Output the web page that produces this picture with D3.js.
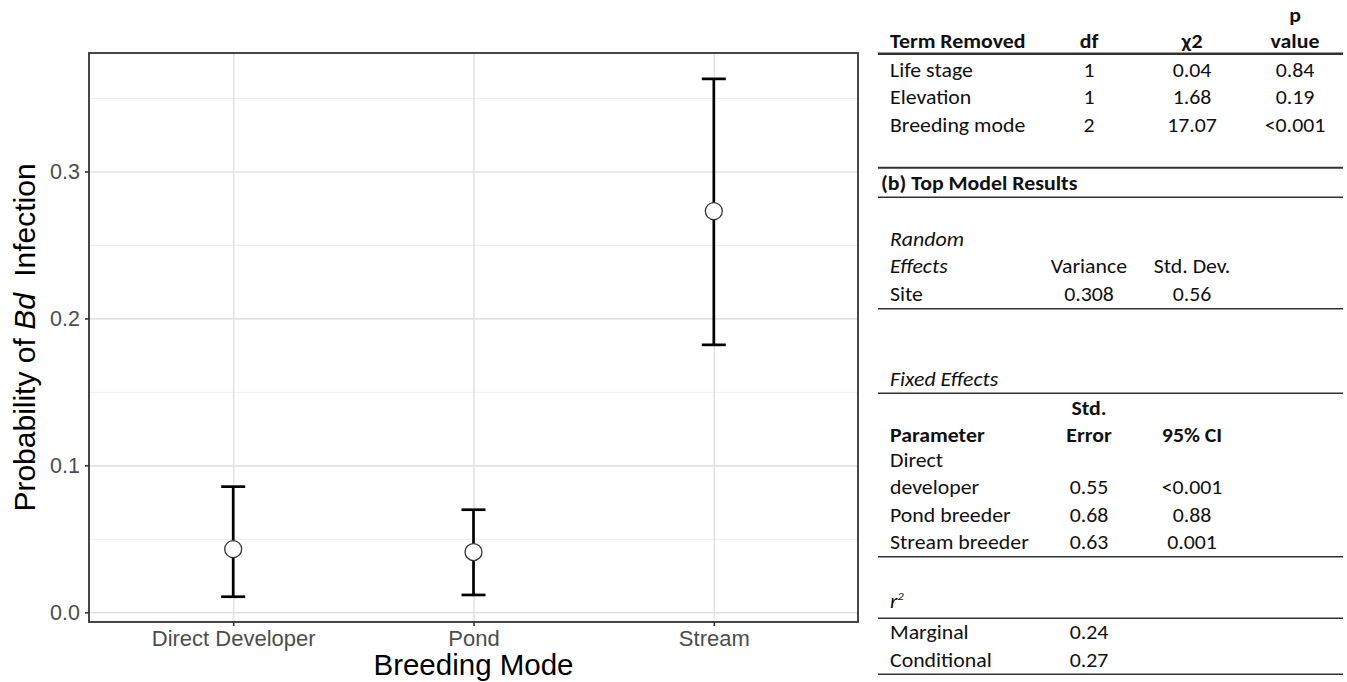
<!DOCTYPE html>
<html>
<head>
<meta charset="utf-8">
<script src="https://cdn.jsdelivr.net/npm/d3@7"></script>
<style>
  body { margin: 0; background: #fff; }
  svg { display: block; }
  .tbl text { font-family: Carlito, Lato, "Noto Sans", sans-serif; font-size: 19.5px; fill: #111; }
</style>
</head>
<body>
<script>
// plot data: fitted probability of Bd infection with 95% CI
const modes = ['Direct Developer', 'Pond', 'Stream'];
const prob = [0.043, 0.041, 0.273];
const lower = [0.0106, 0.0118, 0.182];
const upper = [0.0855, 0.0698, 0.363];
const yTicks = [0, 0.1, 0.2, 0.3];
const yMinor = [0.05, 0.15, 0.25, 0.35];

// (a) likelihood ratio tests
const lrtHead = ['Term Removed', 'df', 'χ2', 'value'];
const lrtTerms = ['Life stage', 'Elevation', 'Breeding mode'];
const lrtDf = ['1', '1', '2'];
const lrtChi = ['0.04', '1.68', '17.07'];
const lrtP = ['0.84', '0.19', '<0.001'];

// (b) top model
const randHead = ['Variance', 'Std. Dev.'];
const randTerms = ['Site'];
const randVar = ['0.308'];
const randSd = ['0.56'];
const fixedHead = ['Parameter', 'Error', '95% CI'];
const fixedTerms = ['Direct developer', 'Pond breeder', 'Stream breeder'];
const fixedSE = ['0.55', '0.68', '0.63'];
const fixedCI = ['<0.001', '0.88', '0.001'];
const r2Terms = ['Marginal', 'Conditional'];
const r2Values = ['0.24', '0.27'];

const W = 1347, H = 682;
const panel = { left: 89, right: 858, top: 53, bottom: 622 };

const svg = d3.select('body').append('svg')
    .attr('width', W)
    .attr('height', H);

const x = d3.scalePoint()
    .domain(modes)
    .range([panel.left, panel.right])
    .padding(0.6);

const y = d3.scaleLinear()
    .domain([-0.0066, 0.3806])
    .range([panel.bottom, panel.top]);

const plotFont = '"Liberation Sans", Arial, Helvetica, sans-serif';

// gridlines
svg.append('g')
    .attr('transform', `translate(${panel.left},0)`)
    .call(d3.axisLeft(y).tickValues(yMinor).tickSize(-(panel.right - panel.left)).tickFormat(''))
    .call(g => g.select('.domain').remove())
    .selectAll('line').attr('stroke', '#ededed').attr('stroke-width', 0.9);

svg.append('g')
    .attr('transform', `translate(${panel.left},0)`)
    .call(d3.axisLeft(y).tickValues(yTicks).tickSize(-(panel.right - panel.left)).tickFormat(''))
    .call(g => g.select('.domain').remove())
    .selectAll('line').attr('stroke', '#e3e3e3').attr('stroke-width', 1.6);

svg.append('g')
    .attr('transform', `translate(0,${panel.bottom})`)
    .call(d3.axisBottom(x).tickSize(-(panel.bottom - panel.top)).tickFormat(''))
    .call(g => g.select('.domain').remove())
    .selectAll('line').attr('stroke', '#e3e3e3').attr('stroke-width', 1.6);

// panel border
svg.append('rect')
    .attr('x', panel.left)
    .attr('y', panel.top)
    .attr('width', panel.right - panel.left)
    .attr('height', panel.bottom - panel.top)
    .attr('fill', 'none')
    .attr('stroke', '#333')
    .attr('stroke-width', 1.8);

// axes
const yAxis = svg.append('g')
    .attr('transform', `translate(${panel.left},0)`)
    .call(d3.axisLeft(y).tickValues(yTicks).tickFormat(d3.format('.1f')).tickSize(4).tickPadding(5));
yAxis.select('.domain').remove();
yAxis.selectAll('line').attr('stroke', '#333').attr('stroke-width', 1.6);
yAxis.selectAll('text')
    .attr('fill', '#4d4d4d')
    .style('font-family', plotFont)
    .style('font-size', '21.5px');

const xAxis = svg.append('g')
    .attr('transform', `translate(0,${panel.bottom})`)
    .call(d3.axisBottom(x).tickSize(4).tickPadding(4));
xAxis.select('.domain').remove();
xAxis.selectAll('line').attr('stroke', '#333').attr('stroke-width', 1.6);
xAxis.selectAll('text')
    .attr('fill', '#4d4d4d')
    .style('font-family', plotFont)
    .style('font-size', '22px');

// error bars
const rows = modes.map((m, i) => ({ mode: m, p: prob[i], lo: lower[i], hi: upper[i] }));
const capHalf = 12;

const bars = svg.append('g').attr('class', 'errorbars')
    .attr('stroke', '#000')
    .attr('stroke-width', 2.7)
    .attr('fill', 'none');

bars.selectAll('line.stem')
    .data(rows)
    .enter().append('line')
    .attr('class', 'stem')
    .attr('x1', d => x(d.mode)).attr('x2', d => x(d.mode))
    .attr('y1', d => y(d.lo)).attr('y2', d => y(d.hi));

bars.selectAll('line.capHi')
    .data(rows)
    .enter().append('line')
    .attr('class', 'capHi')
    .attr('x1', d => x(d.mode) - capHalf).attr('x2', d => x(d.mode) + capHalf)
    .attr('y1', d => y(d.hi)).attr('y2', d => y(d.hi));

bars.selectAll('line.capLo')
    .data(rows)
    .enter().append('line')
    .attr('class', 'capLo')
    .attr('x1', d => x(d.mode) - capHalf).attr('x2', d => x(d.mode) + capHalf)
    .attr('y1', d => y(d.lo)).attr('y2', d => y(d.lo));

svg.append('g').selectAll('circle')
    .data(rows)
    .enter().append('circle')
    .attr('cx', d => x(d.mode))
    .attr('cy', d => y(d.p))
    .attr('r', 8.5)
    .attr('fill', '#fff')
    .attr('stroke', '#333')
    .attr('stroke-width', 1.3);

// axis titles
svg.append('text')
    .attr('x', (panel.left + panel.right) / 2)
    .attr('y', 675)
    .attr('text-anchor', 'middle')
    .style('font-family', plotFont)
    .style('font-size', '29.5px')
    .attr('fill', '#000')
    .text('Breeding Mode');

const yTitle = svg.append('text')
    .attr('transform', 'rotate(-90)')
    .attr('x', -(panel.top + panel.bottom) / 2)
    .attr('y', 35)
    .attr('text-anchor', 'middle')
    .style('font-family', plotFont)
    .style('font-size', '30px')
    .attr('fill', '#000');
yTitle.append('tspan').text('Probability of ');
yTitle.append('tspan').style('font-style', 'italic').text('Bd');
yTitle.append('tspan').attr('dx', 8).text(' Infection');

// ---- results table ----
const tbl = svg.append('g').attr('class', 'tbl');
const tLeft = 890, tRuleL = 878, tRuleR = 1343;
const colX = [1089, 1192, 1295];
const stretch = 1.12; // source table text is a bit wider than Lato

function place(xx, yy, anchor) {
    return tbl.append('g')
        .attr('transform', `translate(${xx},${yy}) scale(${stretch},1)`)
        .append('text')
        .attr('text-anchor', anchor);
}
function label(txt, yy, style, xx) {
    const t = place(xx || tLeft, yy, 'start').text(txt);
    if (style === 'b') t.style('font-weight', 'bold');
    if (style === 'i') t.style('font-style', 'italic');
    return t;
}
function cell(txt, col, yy, bold) {
    const t = place(colX[col], yy, 'middle').text(txt);
    if (bold) t.style('font-weight', 'bold');
    return t;
}
function rule(yy, w) {
    tbl.append('line')
        .attr('x1', tRuleL).attr('x2', tRuleR)
        .attr('y1', yy).attr('y2', yy)
        .attr('stroke', '#333')
        .attr('stroke-width', w || 1.6);
}

// (a) header
cell('p', 2, 22, true);
label(lrtHead[0], 48.3, 'b');
lrtHead.slice(1).forEach((h, i) => cell(h, i, 48.3, true));
rule(53.8, 2.4);
const lrtY = [76.7, 104.3, 132.3];
lrtTerms.forEach((t, i) => {
    label(t, lrtY[i]);
    cell(lrtDf[i], 0, lrtY[i]);
    cell(lrtChi[i], 1, lrtY[i]);
    cell(lrtP[i], 2, lrtY[i]);
});
rule(167.7, 2);

// (b)
label('(b) Top Model Results', 190, 'b', 881);
rule(197.3);

label('Random', 246, 'i');
label('Effects', 273.3, 'i');
randHead.forEach((h, i) => cell(h, i, 273.3));
randTerms.forEach((t, i) => {
    label(t, 300.7);
    cell(randVar[i], 0, 300.7);
    cell(randSd[i], 1, 300.7);
});
rule(308.7);

label('Fixed Effects', 386, 'i');
rule(393.3);
cell('Std.', 0, 415, true);
label(fixedHead[0], 442, 'b');
cell(fixedHead[1], 0, 442, true);
cell(fixedHead[2], 1, 442, true);
const fixedY = [494.3, 521.7, 549];
fixedTerms.forEach((t, i) => {
    if (t === 'Direct developer') {
        label('Direct', fixedY[i] - 27.6);
        label('developer', fixedY[i]);
    } else {
        label(t, fixedY[i]);
    }
    cell(fixedSE[i], 0, fixedY[i]);
    cell(fixedCI[i], 1, fixedY[i]);
});
rule(556.7);

const r2 = label('', 608.3, 'i');
r2.append('tspan').text('r');
r2.append('tspan').attr('dy', -8).style('font-size', '11px').text('2');
rule(618.3);
const r2Y = [639.3, 666.7];
r2Terms.forEach((t, i) => {
    label(t, r2Y[i]);
    cell(r2Values[i], 0, r2Y[i]);
});
rule(674.3);
</script>
</body>
</html>
